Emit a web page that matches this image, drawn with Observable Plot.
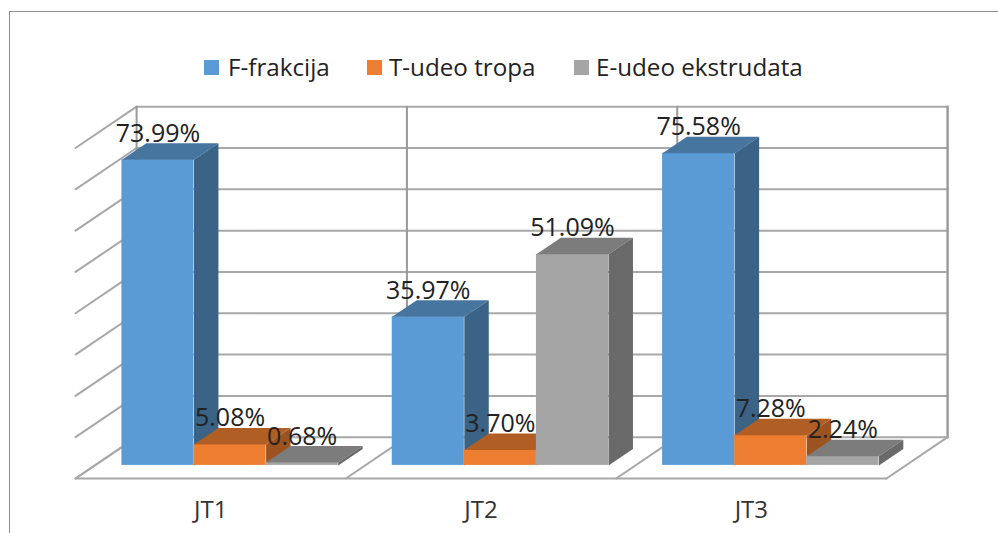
<!DOCTYPE html>
<html>
<head>
<meta charset="utf-8">
<script src="https://cdn.jsdelivr.net/npm/d3@7"></script>
<script src="https://cdn.jsdelivr.net/npm/@observablehq/plot@0.6"></script>
<style>
html,body{margin:0;padding:0;background:#fff;}
#frame{position:relative;width:998px;height:533px;overflow:hidden;}
#edge{position:absolute;left:9px;top:11px;width:1100px;height:600px;border:1.5px solid #8c8c8c;box-sizing:border-box;}
#legend{position:relative;height:95px;font:24.2px "Open Sans",sans-serif;color:#222;}
#legend span{position:absolute;white-space:nowrap;}
#legend i{position:absolute;width:15px;height:15px;top:60px;}
#chart{position:relative;}
svg{display:block;}
</style>
</head>
<body>
<div id="frame">
<div id="edge"></div>
<div id="legend"></div>
<div id="chart"></div>
</div>
<script>
const categories = ["JT1", "JT2", "JT3"];
const seriesNames = ["F-frakcija", "T-udeo tropa", "E-udeo ekstrudata"];
const fFrakcija = [73.99, 35.97, 75.58];
const tUdeo = [5.08, 3.70, 7.28];
const eUdeo = [0.68, 51.09, 2.24];
const gridValues = [0, 10, 20, 30, 40, 50, 60, 70, 80];
const frontColors = ["#5B9BD5", "#ED7D31", "#A5A5A5"];
const topColors = ["#4675A0", "#B15E24", "#7C7C7C"];
const sideColors = ["#3A6386", "#9C5320", "#696969"];
const seriesValues = [fFrakcija, tUdeo, eUdeo];

// Oblique projection: one unit of depth shifts by these amounts in data units
const depthX = 0.226, depthY = 10;
const barWidth = 0.2667, gap = 0.1, barZ0 = 0.317, barZ1 = 0.717;
const P = (x, v, z) => ({x: x + z * depthX, y: v + z * depthY});

const wallColor = "#a8a8a8";
const gridMarks = [];
const seg = (a, b, o = {}) => Plot.line([a, b], {x: "x", y: "y", stroke: wallColor, strokeWidth: 2, ...o});

for (const v of gridValues) {
  gridMarks.push(seg(P(0, v, 0), P(0, v, 1)));   // left wall
  gridMarks.push(seg(P(0, v, 1), P(3, v, 1)));   // back wall
}
for (const c of [0, 1, 2, 3]) {
  gridMarks.push(seg(P(c, 0, 1), P(c, 80, 1), c === 3 ? {stroke: "#999", strokeWidth: 2.4} : {stroke: "#999"}));
  gridMarks.push(seg(P(c, 0, 0), P(c, 0, 1)));   // floor dividers
}
gridMarks.push(seg(P(0, 0, 0), P(3, 0, 0)));     // floor front edge

const barMarks = [];
const labels = [];
categories.forEach((cat, c) => {
  seriesValues.forEach((vals, s) => {
    const v = vals[c];
    const x0 = c + gap + s * barWidth, x1 = x0 + barWidth;
    // front face
    const a = P(x0, 0, barZ0), b = P(x1, v, barZ0);
    barMarks.push(Plot.rect([{x1: a.x, x2: b.x, y1: a.y, y2: b.y}],
      {x1: "x1", x2: "x2", y1: "y1", y2: "y2", fill: frontColors[s]}));
    // top face
    barMarks.push(Plot.line([P(x0, v, barZ0), P(x1, v, barZ0), P(x1, v, barZ1), P(x0, v, barZ1)],
      {x: "x", y: "y", fill: topColors[s], stroke: "none"}));
    // side face
    barMarks.push(Plot.line([P(x1, 0, barZ0), P(x1, v, barZ0), P(x1, v, barZ1), P(x1, 0, barZ1)],
      {x: "x", y: "y", fill: sideColors[s], stroke: "none"}));
    const t = P((x0 + x1) / 2, v, barZ0);
    labels.push({x: t.x, y: t.y, text: v.toFixed(2) + "%"});
  });
});

const legend = document.getElementById("legend");
const swatchX = [204, 367, 574], textX = [228, 389, 596];
seriesNames.forEach((n, i) => {
  const sw = document.createElement("i");
  sw.style.left = swatchX[i] + "px";
  sw.style.background = frontColors[i];
  legend.appendChild(sw);
  const sp = document.createElement("span");
  sp.textContent = n;
  sp.style.left = textX[i] + "px";
  sp.style.top = "50px";
  legend.appendChild(sp);
});

const plot = Plot.plot({
  width: 998,
  height: 438,
  marginLeft: 75,
  marginRight: 112,
  marginTop: 52.5,
  marginBottom: 55,
  style: {background: "transparent", overflow: "visible"},
  x: {domain: [0, 3]},
  y: {domain: [0, 80]},
  marks: [
    ...gridMarks,
    ...barMarks,
    Plot.text(labels, {x: "x", y: "y", text: "text", dy: -26, fontSize: 25,
      fontFamily: "'Open Sans',sans-serif", fill: "#222", lineAnchor: "middle"}),
    Plot.axisX({
      ticks: categories.map((_, i) => i + 0.5),
      tickFormat: d => categories[Math.floor(d)],
      tickSize: 0,
      tickPadding: 22,
      fontSize: 24,
      fontFamily: "'Open Sans',sans-serif",
      color: "#333",
      label: null
    }),
    Plot.axisY({ticks: [], label: null})
  ]
});
document.getElementById("chart").appendChild(plot);
</script>
</body>
</html>
